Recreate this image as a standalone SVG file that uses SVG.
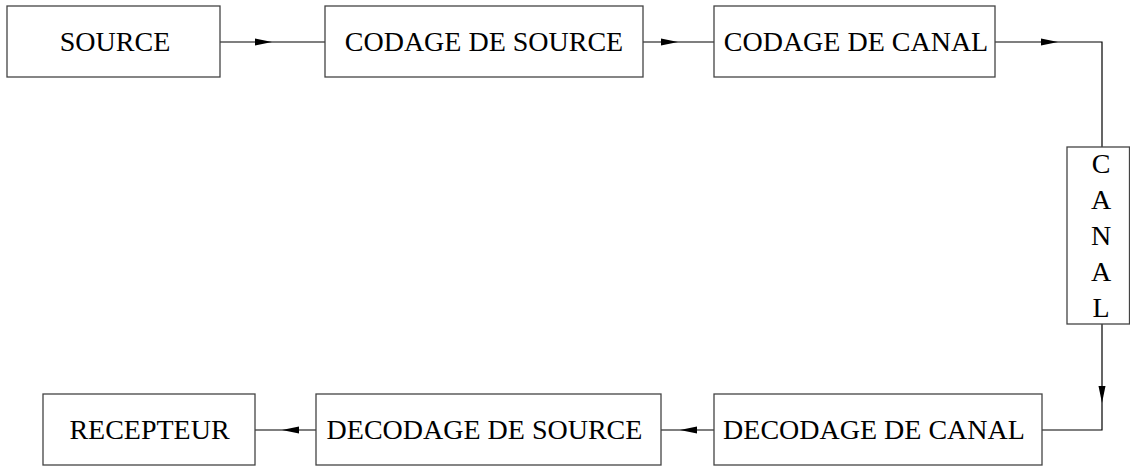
<svg xmlns="http://www.w3.org/2000/svg" width="1130" height="466" viewBox="0 0 1130 466">
<style>
.box{fill:#fff;stroke:#444;stroke-width:1.3}
.lbl{font-family:"Liberation Serif","Times New Roman",serif;font-size:28px;fill:#000;text-anchor:middle}
.ln{fill:none;stroke:#000;stroke-width:1.2}
.ah{fill:#000}
</style>
<rect width="1130" height="466" fill="#fff"/>
<g id="connectors">
<path class="ln" d="M220,42 H325"/>
<polygon class="ah" points="272,42 255,38.5 255,45.5"/>
<path class="ln" d="M643,42 H714"/>
<polygon class="ah" points="678,42 661,38.5 661,45.5"/>
<path class="ln" d="M995,42 H1102 V147"/>
<polygon class="ah" points="1058,42 1041,38.5 1041,45.5"/>
<path class="ln" d="M1102,324 V430 H1042"/>
<polygon class="ah" points="1102,403 1098.5,386 1105.5,386"/>
<path class="ln" d="M714,430 H661"/>
<polygon class="ah" points="680,430 697,426.5 697,433.5"/>
<path class="ln" d="M316,430 H255"/>
<polygon class="ah" points="282,430 299,426.5 299,433.5"/>
</g>
<g id="source"><rect class="box" x="7" y="6" width="213" height="71"/><text class="lbl" x="115" y="51">SOURCE</text></g>
<g id="codage-source"><rect class="box" x="325" y="6" width="318" height="71"/><text class="lbl" x="484" y="51">CODAGE DE SOURCE</text></g>
<g id="codage-canal"><rect class="box" x="714" y="6" width="281" height="71"/><text class="lbl" x="856" y="51">CODAGE DE CANAL</text></g>
<g id="canal"><rect class="box" x="1067" y="147" width="62.5" height="177"/>
<text class="lbl" x="1101" y="173">C</text>
<text class="lbl" x="1101" y="209">A</text>
<text class="lbl" x="1101" y="245">N</text>
<text class="lbl" x="1101" y="281">A</text>
<text class="lbl" x="1101" y="317">L</text></g>
<g id="decodage-canal"><rect class="box" x="714" y="394" width="328" height="71"/><text class="lbl" x="874" y="439">DECODAGE DE CANAL</text></g>
<g id="decodage-source"><rect class="box" x="316" y="394" width="345" height="71"/><text class="lbl" x="484.5" y="439">DECODAGE DE SOURCE</text></g>
<g id="recepteur"><rect class="box" x="43" y="394" width="212" height="71"/><text class="lbl" x="149.5" y="439">RECEPTEUR</text></g>
</svg>
